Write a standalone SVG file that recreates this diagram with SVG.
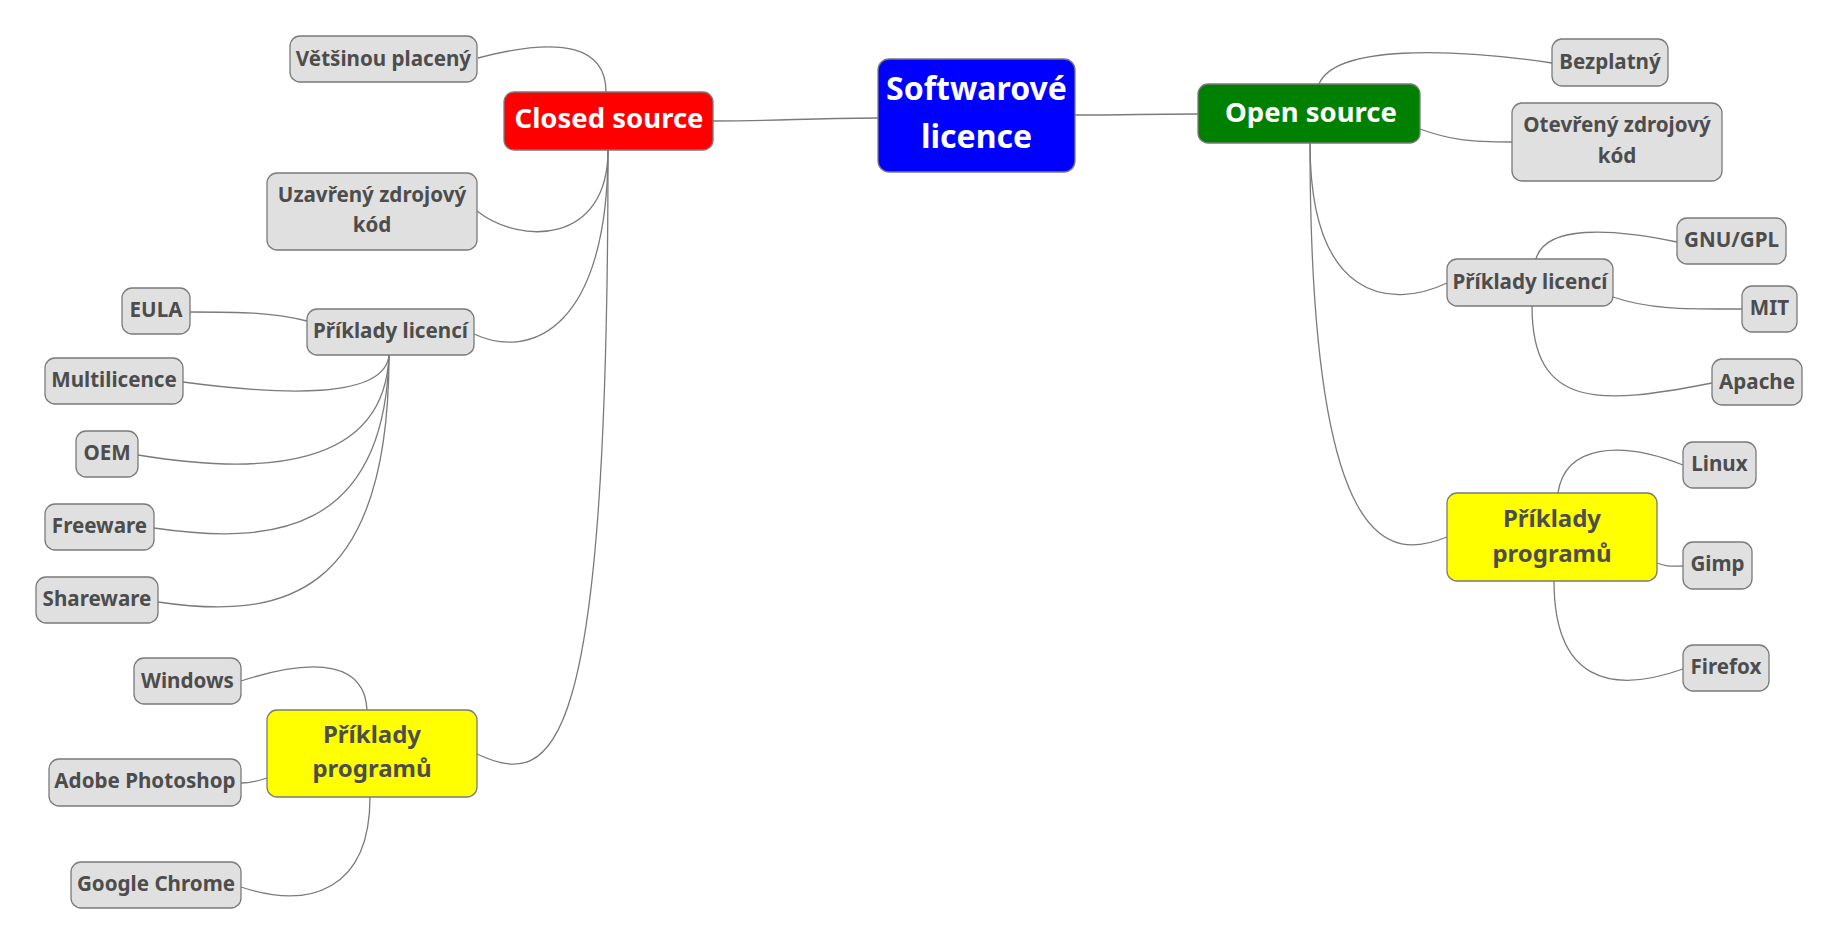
<svg xmlns="http://www.w3.org/2000/svg" width="1840" height="946" viewBox="0 0 1840 946">
<style>
text{font-family:"Noto Sans","Open Sans","DejaVu Sans",sans-serif;font-weight:bold;text-anchor:middle}
.g rect{fill:#e0e0e0;stroke:#7a7a7a;stroke-width:1.3}
.g text{fill:#4d4d4d;font-size:20.6px}
.y rect{fill:#ffff00;stroke:#7a7a7a;stroke-width:1.3}
.y text{fill:#4d4d4d;font-size:24px}
.m rect{stroke:#7a7a7a;stroke-width:1.3}
.m text{fill:#ffffff;font-size:27.5px}
#edges path{fill:none;stroke:#7a7a7a;stroke-width:1.3}
</style>
<rect width="1840" height="946" fill="#ffffff"/>
<g id="edges">
<path d="M713,121 C795,121 795,118 878,118"/>
<path d="M1075,115 C1137,115 1137,114 1198,114"/>
<path d="M606,92 C606,48 565,35 478,58"/>
<path d="M608,150 C608,245 520,245 477,211"/>
<path d="M608,150 C608,330 530,360 474,334"/>
<path d="M608,150 C608,760 555,790 477,754"/>
<path d="M190,312 C240,312 270,312 307,321"/>
<path d="M389,355 C385,400 280,395 183,382"/>
<path d="M389,355 C385,470 260,475 138,455"/>
<path d="M389,355 C385,535 270,545 154,528"/>
<path d="M389,355 C389,600 280,620 158,602"/>
<path d="M367,710 C365,665 320,655 241,681"/>
<path d="M267,778 C255,782 250,783 241,783"/>
<path d="M370,797 C370,890 310,910 241,887"/>
<path d="M1319,84 C1335,45 1450,48 1552,63"/>
<path d="M1420,129 C1450,140 1470,142 1512,142"/>
<path d="M1310,143 C1310,300 1390,310 1447,283"/>
<path d="M1310,143 C1310,560 1390,560 1447,537"/>
<path d="M1536,259 C1545,225 1610,228 1677,242"/>
<path d="M1613,297 C1650,310 1690,309 1742,309"/>
<path d="M1532,306 C1532,410 1600,405 1712,383"/>
<path d="M1558,493 C1565,445 1620,440 1683,465"/>
<path d="M1657,563 C1667,567 1672,566 1683,566"/>
<path d="M1554,581 C1554,680 1610,695 1683,669"/>
</g>
<g id="n-root" class="m"><rect x="878" y="59" width="197" height="113" rx="11" fill="#0000ff"/><text x="976.5" y="100" style="font-size:32px">Softwarové</text><text x="976.5" y="148" style="font-size:32px">licence</text></g>
<g id="n-closed" class="m"><rect x="504" y="92" width="209" height="58" rx="10" fill="#ff0000"/><text x="609" y="128">Closed source</text></g>
<g id="n-open" class="m"><rect x="1198" y="84" width="222" height="59" rx="10" fill="#008000"/><text x="1311" y="122">Open source</text></g>
<g id="n-vetsinou" class="g"><rect x="290" y="36" width="187" height="46" rx="10"/><text x="383.5" y="65.5">Většinou placený</text></g>
<g id="n-uzavreny" class="g"><rect x="267" y="173" width="210" height="77" rx="10"/><text x="372" y="202">Uzavřený zdrojový</text><text x="372" y="232">kód</text></g>
<g id="n-priklady-lic-l" class="g"><rect x="307" y="309" width="167" height="46" rx="10"/><text x="390.5" y="337.5">Příklady licencí</text></g>
<g id="n-eula" class="g"><rect x="122" y="288" width="68" height="46" rx="10"/><text x="156" y="317">EULA</text></g>
<g id="n-multi" class="g"><rect x="45" y="358" width="138" height="46" rx="10"/><text x="114" y="386.5">Multilicence</text></g>
<g id="n-oem" class="g"><rect x="76" y="431" width="62" height="46" rx="10"/><text x="107" y="460">OEM</text></g>
<g id="n-freeware" class="g"><rect x="45" y="504" width="109" height="46" rx="10"/><text x="99.5" y="533">Freeware</text></g>
<g id="n-shareware" class="g"><rect x="36" y="577" width="122" height="46" rx="10"/><text x="97" y="606">Shareware</text></g>
<g id="n-prog-l" class="y"><rect x="267" y="710" width="210" height="87" rx="10"/><text x="372" y="743">Příklady</text><text x="372" y="777">programů</text></g>
<g id="n-windows" class="g"><rect x="134" y="658" width="107" height="46" rx="10"/><text x="187.5" y="687.5">Windows</text></g>
<g id="n-photoshop" class="g"><rect x="49" y="759" width="192" height="47" rx="10"/><text x="145" y="788">Adobe Photoshop</text></g>
<g id="n-chrome" class="g"><rect x="71" y="862" width="170" height="46" rx="10"/><text x="156" y="890.5">Google Chrome</text></g>
<g id="n-bezplatny" class="g"><rect x="1552" y="39" width="116" height="47" rx="10"/><text x="1610" y="69">Bezplatný</text></g>
<g id="n-otevreny" class="g"><rect x="1512" y="103" width="210" height="78" rx="10"/><text x="1617" y="132">Otevřený zdrojový</text><text x="1617" y="163">kód</text></g>
<g id="n-priklady-lic-r" class="g"><rect x="1447" y="259" width="166" height="47" rx="10"/><text x="1530" y="288.5">Příklady licencí</text></g>
<g id="n-gnu" class="g"><rect x="1677" y="218" width="109" height="46" rx="10"/><text x="1731.5" y="247">GNU/GPL</text></g>
<g id="n-mit" class="g"><rect x="1742" y="286" width="55" height="46" rx="10"/><text x="1769.5" y="315">MIT</text></g>
<g id="n-apache" class="g"><rect x="1712" y="359" width="90" height="46" rx="10"/><text x="1757" y="388.5">Apache</text></g>
<g id="n-prog-r" class="y"><rect x="1447" y="493" width="210" height="88" rx="10"/><text x="1552" y="527">Příklady</text><text x="1552" y="562">programů</text></g>
<g id="n-linux" class="g"><rect x="1683" y="442" width="73" height="46" rx="10"/><text x="1719.5" y="470.5">Linux</text></g>
<g id="n-gimp" class="g"><rect x="1683" y="542" width="69" height="47" rx="10"/><text x="1717.5" y="570.5">Gimp</text></g>
<g id="n-firefox" class="g"><rect x="1683" y="645" width="86" height="46" rx="10"/><text x="1726" y="674">Firefox</text></g>
</svg>
